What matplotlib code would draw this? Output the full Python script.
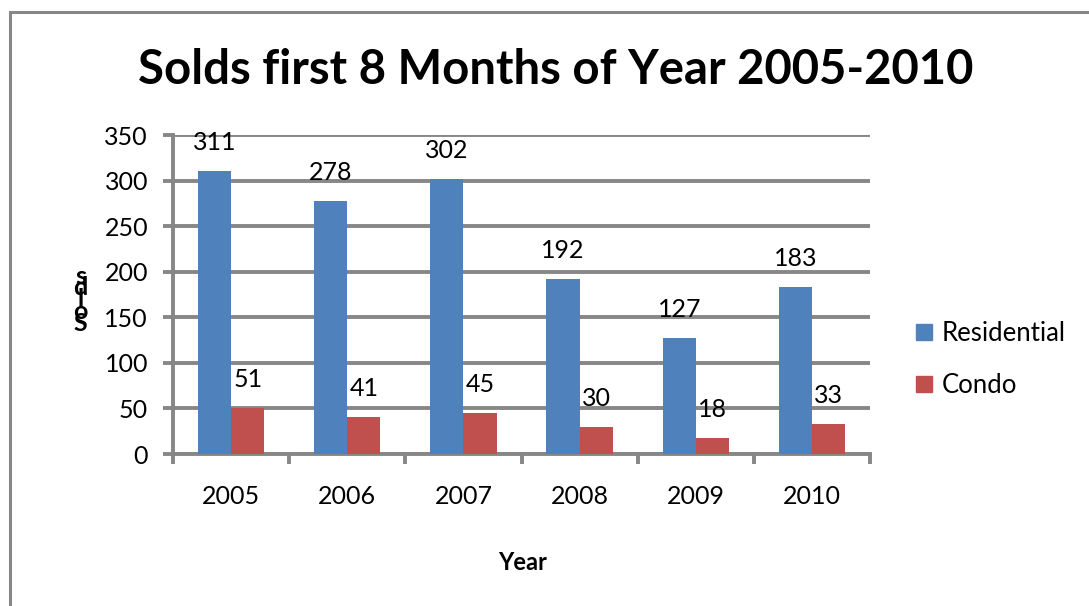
import matplotlib.pyplot as plt
import numpy as np
from matplotlib.patches import Rectangle, Patch

years = ['2005', '2006', '2007', '2008', '2009', '2010']
residential = [311, 278, 302, 192, 127, 183]
condo = [51, 41, 45, 30, 18, 33]

BLUE = '#4F81BD'
RED = '#C0504D'
GRID = '#878787'

plt.rcParams['font.family'] = ['Lato', 'DejaVu Sans']

fig = plt.figure(figsize=(10.89, 6.06), dpi=100)
ax = fig.add_axes([0.1589, 0.2508, 0.640, 0.5264])

x = np.arange(len(years))
w = 0.285
b1 = ax.bar(x - w / 2, residential, w, color=BLUE, zorder=3)
b2 = ax.bar(x + w / 2, condo, w, color=RED, zorder=3)

for bars, vals in [(b1, residential), (b2, condo)]:
    for rect, v in zip(bars, vals):
        ax.annotate(str(v), (rect.get_x() + rect.get_width() / 2, v),
                    xytext=(0, 15), textcoords='offset points',
                    ha='center', va='baseline', fontsize=18, zorder=4)

ax.set_xlim(-0.5, len(years) - 0.5)
ax.set_ylim(0, 350)
ax.set_yticks(range(0, 351, 50))
ax.yaxis.grid(True, color=GRID, linewidth=2.8, zorder=0)
ax.set_axisbelow(True)

# category ticks sit on the boundaries, labels in the middle
ax.set_xticks(np.arange(-0.5, len(years), 1.0))
ax.set_xticklabels([])
ax.set_xticks(x, minor=True)
ax.set_xticklabels(years, minor=True, fontsize=18)
ax.tick_params(axis='x', which='minor', length=0, pad=22)
ax.tick_params(axis='x', which='major', length=7, width=2.8, color=GRID)
ax.tick_params(axis='y', length=7, width=2.8, color=GRID, labelsize=18, pad=11)

for s in ['top', 'right']:
    ax.spines[s].set_visible(False)
for s in ['left', 'bottom']:
    ax.spines[s].set_color(GRID)
    ax.spines[s].set_linewidth(2.8)

fig.text(0.510, 0.885, 'Solds first 8 Months of Year 2005-2010', ha='center', va='center',
         fontsize=34, fontweight='bold')
fig.text(0.480, 0.072, 'Year', ha='center', va='center', fontsize=17, fontweight='bold')
fig.text(0.074, 0.505, 's\nd\nl\no\nS', ha='center', va='center', fontsize=18,
         fontweight='bold', linespacing=0.42)

handles = [Patch(color=BLUE, label='Residential'), Patch(color=RED, label='Condo')]
fig.legend(handles=handles, loc='upper left', bbox_to_anchor=(0.820, 0.508),
           frameon=False, fontsize=18.5, handlelength=0.6, handleheight=0.6,
           handletextpad=0.4, labelspacing=1.05)

fig.patches.append(Rectangle((0.0095, -0.1), 1.2, 1.08, transform=fig.transFigure,
                             fill=False, edgecolor=GRID, linewidth=2.2))

fig.savefig('out.png', dpi=100)
